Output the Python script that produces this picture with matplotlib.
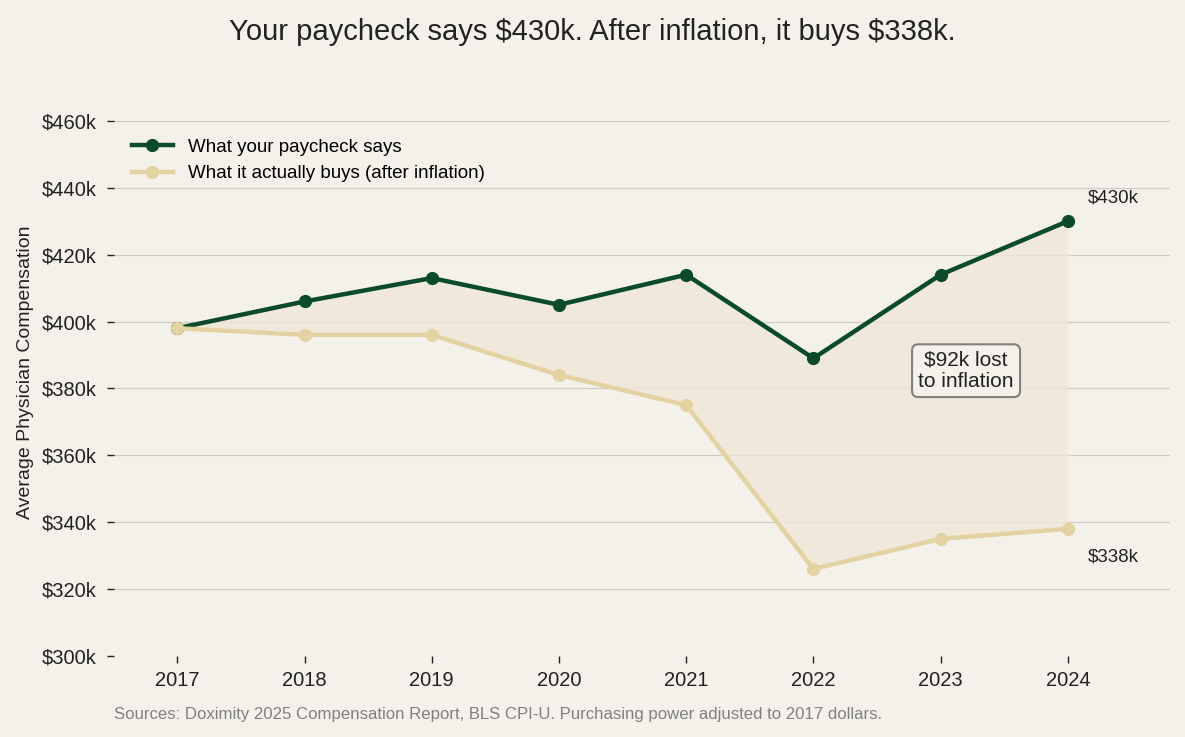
import numpy as np
import matplotlib.pyplot as plt

plt.rcParams['font.family'] = ['Liberation Sans', 'DejaVu Sans']

# average physician compensation, in $k
years = [2017, 2018, 2019, 2020, 2021, 2022, 2023, 2024]
nominal = [398, 406, 413, 405, 414, 389, 414, 430]
real_2017 = [398, 396, 396, 384, 375, 326, 335, 338]
yticks = [300, 320, 340, 360, 380, 400, 420, 440, 460]

bg = '#f4f1eb'
green = '#0b4a2a'
tan = '#e3d3a3'

fig, ax = plt.subplots(figsize=(11.85, 7.37), dpi=100)
fig.patch.set_facecolor(bg)
ax.set_facecolor(bg)

# gap between the two lines
ax.fill_between(years, real_2017, nominal, color='#efe7d8', alpha=0.8, lw=0)

ax.plot(years, nominal, color=green, lw=3.2, marker='o', ms=8.5,
        label='What your paycheck says', zorder=3)
ax.plot(years, real_2017, color=tan, lw=3.2, marker='o', ms=8.5,
        label='What it actually buys (after inflation)', zorder=3)

# end labels
ax.text(years[-1] + 0.16, nominal[-1] + 6.8, f'\\${nominal[-1]}k', fontsize=13.5,
        color='#222222', ha='left', va='center')
ax.text(years[-1] + 0.16, real_2017[-1] - 8.3, f'\\${real_2017[-1]}k', fontsize=13.5,
        color='#222222', ha='left', va='center')

gap = nominal[-1] - real_2017[-1]
ax.text(2023.2, 385.3, f'\\${gap}k lost\nto inflation', fontsize=15, ha='center',
        va='center', color='#222222', linespacing=1.15,
        bbox=dict(boxstyle='round,pad=0.3', fc='#f4f1eb', ec='#808080', lw=1.5))

ax.set_xlim(2016.5, 2024.8)
ax.set_ylim(300, 469.7)
ax.set_xticks(years)
ax.set_yticks(yticks)
ax.set_yticklabels([f'\\${v}k' for v in yticks])
ax.tick_params(axis='both', labelsize=14.5, colors='#222222', length=5, width=1)
ax.tick_params(axis='y', pad=7)
ax.tick_params(axis='x', pad=6)

ax.grid(axis='y', color='#cfcbc4', lw=0.9)
ax.set_axisbelow(True)
fig.canvas.draw()
ax.yaxis.get_gridlines()[0].set_visible(False)
for s in ax.spines.values():
    s.set_visible(False)

ax.set_ylabel('Average Physician Compensation', fontsize=14, color='#222222',
              labelpad=6)

leg = ax.legend(loc='upper left', frameon=False, fontsize=13.5,
                bbox_to_anchor=(0.001, 0.941), handlelength=2.2)

fig.suptitle('Your paycheck says \\$430k. After inflation, it buys \\$338k.',
             fontsize=21, color='#222222', y=0.975)
fig.text(0.096, 0.024, 'Sources: Doximity 2025 Compensation Report, BLS CPI-U. '
         'Purchasing power adjusted to 2017 dollars.', fontsize=12.1,
         color='#808080', ha='left')

plt.subplots_adjust(left=0.096, right=0.987, top=0.88, bottom=0.11)
plt.savefig('out.png', dpi=100, facecolor=bg)
